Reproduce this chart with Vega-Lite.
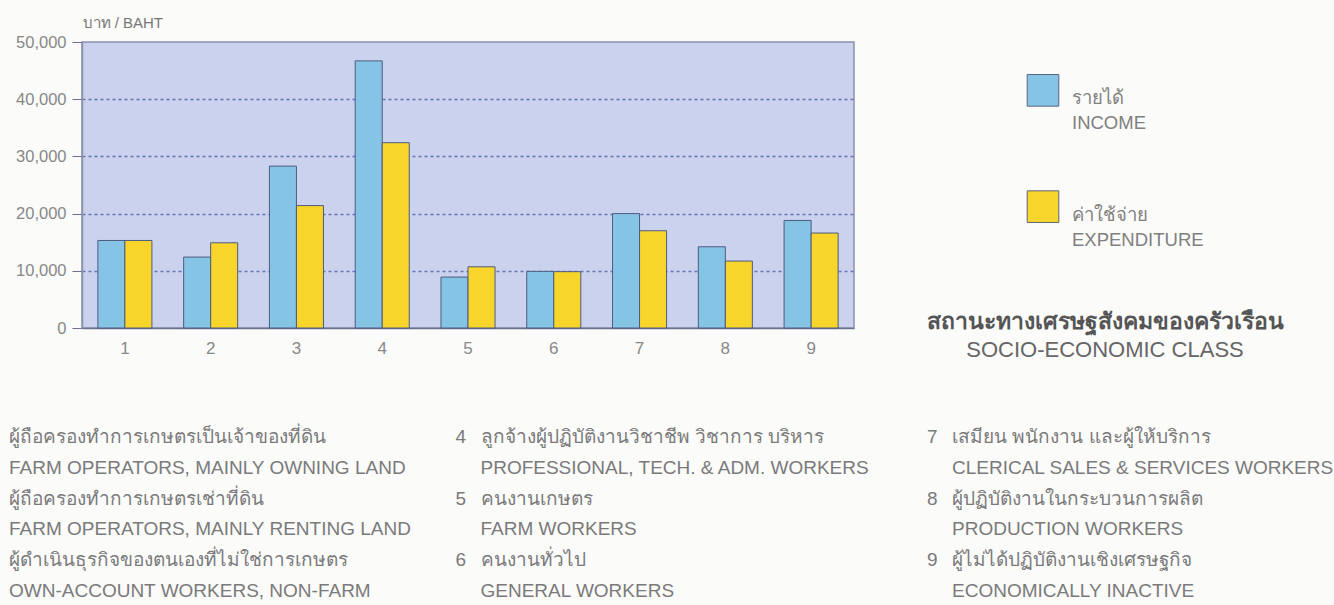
{
  "$schema": "https://vega.github.io/schema/vega-lite/v6.json",
  "autosize": {"type": "none"},
  "padding": {"left": 82, "top": 42, "right": 1252, "bottom": 563},
  "background": "#fbfbfa",
  "bounds": "flush",
  "spacing": 401,
  "config": {
    "font": "Liberation Sans",
    "view": {"stroke": null}
  },
  "datasets": {
    "bars": [
      {"class": 1, "series": "income", "value": 15300},
      {"class": 1, "series": "expenditure", "value": 15300},
      {"class": 2, "series": "income", "value": 12400},
      {"class": 2, "series": "expenditure", "value": 14900},
      {"class": 3, "series": "income", "value": 28300},
      {"class": 3, "series": "expenditure", "value": 21400},
      {"class": 4, "series": "income", "value": 46700},
      {"class": 4, "series": "expenditure", "value": 32400},
      {"class": 5, "series": "income", "value": 8900},
      {"class": 5, "series": "expenditure", "value": 10700},
      {"class": 6, "series": "income", "value": 9900},
      {"class": 6, "series": "expenditure", "value": 9850},
      {"class": 7, "series": "income", "value": 20000},
      {"class": 7, "series": "expenditure", "value": 17000},
      {"class": 8, "series": "income", "value": 14200},
      {"class": 8, "series": "expenditure", "value": 11700},
      {"class": 9, "series": "income", "value": 18800},
      {"class": 9, "series": "expenditure", "value": 16600}
    ],
    "legend": [
      {"series": "income", "label": ["รายได้", "INCOME"]},
      {"series": "expenditure", "label": ["ค่าใช้จ่าย", "EXPENDITURE"]}
    ],
    "classes": [
      {"class": 1, "label": ["ผู้ถือครองทำการเกษตรเป็นเจ้าของที่ดิน", "FARM OPERATORS, MAINLY OWNING LAND"]},
      {"class": 2, "label": ["ผู้ถือครองทำการเกษตรเช่าที่ดิน", "FARM OPERATORS, MAINLY RENTING LAND"]},
      {"class": 3, "label": ["ผู้ดำเนินธุรกิจของตนเองที่ไม่ใช่การเกษตร", "OWN-ACCOUNT WORKERS, NON-FARM"]},
      {"class": 4, "label": ["ลูกจ้างผู้ปฏิบัติงานวิชาชีพ วิชาการ บริหาร", "PROFESSIONAL, TECH. & ADM. WORKERS"]},
      {"class": 5, "label": ["คนงานเกษตร", "FARM WORKERS"]},
      {"class": 6, "label": ["คนงานทั่วไป", "GENERAL WORKERS"]},
      {"class": 7, "label": ["เสมียน พนักงาน และผู้ให้บริการ", "CLERICAL SALES & SERVICES WORKERS"]},
      {"class": 8, "label": ["ผู้ปฏิบัติงานในกระบวนการผลิต", "PRODUCTION WORKERS"]},
      {"class": 9, "label": ["ผู้ไม่ได้ปฏิบัติงานเชิงเศรษฐกิจ", "ECONOMICALLY INACTIVE"]}
    ]
  },
  "vconcat": [
    {
      "bounds": "flush",
      "spacing": 46,
      "hconcat": [
        {
          "width": 772,
          "height": 286,
          "view": {"fill": "#cbd2ee", "stroke": "#8c91ad", "strokeWidth": 1.5},
          "data": {"name": "bars"},
          "mark": {"type": "bar", "stroke": "#4e5b80", "strokeWidth": 1},
          "encoding": {
            "x": {
              "field": "class",
              "type": "ordinal",
              "scale": {"paddingInner": 0.37, "paddingOuter": 0.185},
              "axis": {
                "title": null,
                "labelAngle": 0,
                "labelFontSize": 17,
                "labelColor": "#888888",
                "ticks": false,
                "labelPadding": 12,
                "domainColor": "#6d7290",
                "domainWidth": 1.5
              }
            },
            "xOffset": {
              "field": "series",
              "type": "nominal",
              "scale": {"domain": ["income", "expenditure"], "paddingInner": 0, "paddingOuter": 0}
            },
            "y": {
              "field": "value",
              "type": "quantitative",
              "scale": {"domain": [0, 50000], "nice": false},
              "axis": {
                "title": "บาท / BAHT",
                "titleAngle": 0,
                "titleAlign": "left",
                "titleBaseline": "middle",
                "titleX": 0,
                "titleY": -20,
                "titleFontSize": 15,
                "titleFontWeight": "normal",
                "titleColor": "#777777",
                "values": [0, 10000, 20000, 30000, 40000, 50000],
                "format": ",d",
                "labelFontSize": 16.5,
                "labelColor": "#888888",
                "labelPadding": 6,
                "tickSize": 10,
                "tickColor": "#6d7290",
                "domainColor": "#8c91ad",
                "domainWidth": 1.5,
                "grid": true,
                "gridColor": "#4a5ea6",
                "gridDash": [3, 3],
                "gridWidth": 1.5,
                "gridOpacity": {"condition": {"test": "datum.value == 0 || datum.value == 50000", "value": 0}, "value": 0.8}
              }
            },
            "color": {
              "field": "series",
              "type": "nominal",
              "scale": {"domain": ["income", "expenditure"], "range": ["#86c4e6", "#f7d52a"]},
              "legend": null
            }
          }
        },
        {
          "width": 286,
          "height": 213,
          "data": {"name": "legend"},
          "title": {
            "text": "สถานะทางเศรษฐสังคมของครัวเรือน",
            "subtitle": "SOCIO-ECONOMIC CLASS",
            "orient": "bottom",
            "anchor": "start",
            "frame": "group",
            "align": "center",
            "dx": 205,
            "offset": 56,
            "fontSize": 23,
            "fontWeight": "bold",
            "color": "#555555",
            "subtitleFontSize": 22,
            "subtitleColor": "#666666",
            "subtitlePadding": 6
          },
          "encoding": {
            "y": {
              "field": "series",
              "type": "nominal",
              "scale": {"type": "point", "domain": ["income", "expenditure"], "padding": 0.4157},
              "axis": null
            }
          },
          "layer": [
            {
              "mark": {"type": "square", "size": 1000, "opacity": 1, "stroke": "#5a6480", "strokeWidth": 1},
              "encoding": {"color": {"field": "series", "type": "nominal", "legend": null}}
            },
            {
              "mark": {"type": "text", "align": "left", "baseline": "middle", "dx": 29, "dy": 8, "lineHeight": 25, "fontSize": 18.5, "color": "#808080"},
              "encoding": {"text": {"field": "label", "type": "nominal"}}
            }
          ]
        }
      ]
    },
    {
      "width": 943,
      "height": 123,
      "data": {"name": "classes"},
      "transform": [
        {"calculate": "ceil(datum.class / 3)", "as": "col"},
        {"calculate": "(datum.class - 1) % 3", "as": "slot"}
      ],
      "encoding": {
        "x": {"field": "col", "type": "ordinal", "scale": {"type": "point", "padding": 0}, "axis": null},
        "y": {"field": "slot", "type": "ordinal", "scale": {"type": "point", "padding": 0}, "axis": null}
      },
      "layer": [
        {
          "transform": [{"filter": "datum.class > 3"}],
          "mark": {"type": "text", "align": "left", "baseline": "alphabetic", "dx": -98, "fontSize": 19, "color": "#7a7a7a"},
          "encoding": {"text": {"field": "class", "type": "nominal"}}
        },
        {
          "mark": {"type": "text", "align": "left", "baseline": "alphabetic", "dx": -73, "fontSize": 19, "lineHeight": 30.5, "color": "#7a7a7a"},
          "encoding": {"text": {"field": "label", "type": "nominal"}}
        }
      ]
    }
  ]
}
